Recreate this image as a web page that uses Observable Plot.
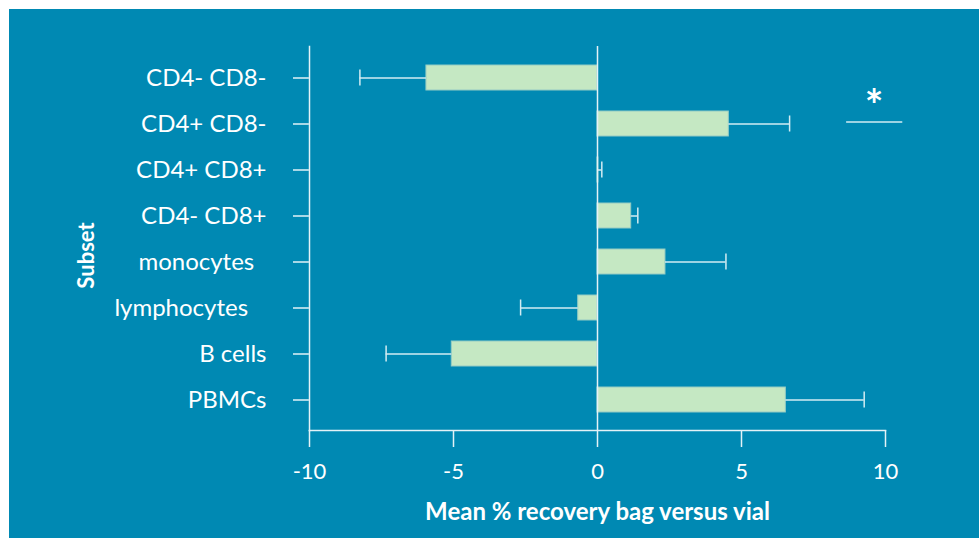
<!DOCTYPE html>
<html><head><meta charset="utf-8">
<script src="https://cdn.jsdelivr.net/npm/d3@7"></script>
<script src="https://cdn.jsdelivr.net/npm/@observablehq/plot@0.6"></script>
<style>
html,body{margin:0;padding:0;background:#fff;}
#chart{position:absolute;left:9px;top:9px;width:970px;height:529px;background:#0089b3;}
#chart svg{display:block;}
</style></head><body><div id="chart"></div>
<script>
const subsets = ["CD4- CD8-", "CD4+ CD8-", "CD4+ CD8+", "CD4- CD8+", "monocytes", "lymphocytes", "B cells", "PBMCs"];
const tickLabels = ["CD4- CD8-", "CD4+ CD8-", "CD4+ CD8+", "CD4- CD8+", "monocytes\u00a0\u00a0", "lymphocytes\u00a0\u00a0\u00a0", "B cells", "PBMCs"];
const meanRecovery = [-5.94, 4.56, 0.03, 1.17, 2.36, -0.67, -5.06, 6.54];
const errorSD = [2.31, 2.11, 0.12, 0.23, 2.10, 2.00, 2.28, 2.72];
const xTicks = [-10, -5, 0, 5, 10];
const sigSubset = "CD4+ CD8-";
const sigX1 = 8.65, sigX2 = 10.6, sigStarX = 9.6;
const xTitle = "Mean % recovery bag versus vial";
const yTitle = "Subset";

const rows = subsets.map((s, i) => ({
  subset: s, mean: meanRecovery[i], err: errorSD[i],
  end: meanRecovery[i] + Math.sign(meanRecovery[i]) * errorSD[i]
}));
const labelOf = new Map(subsets.map((s, i) => [s, tickLabels[i]]));
const sig = [{subset: sigSubset, x1: sigX1, x2: sigX2, x: sigStarX, text: "*"}];

const axisColor = "#e4f2f7";
const plot = Plot.plot({
  width: 970, height: 529,
  marginLeft: 300, marginRight: 94, marginTop: 37, marginBottom: 108,
  style: {background: "transparent", fontFamily: "Lato, sans-serif", color: "#fff", overflow: "visible"},
  x: {domain: [-10, 10]},
  y: {domain: subsets, paddingInner: 0.457, paddingOuter: 0.402},
  marks: [
    Plot.barX(rows, {x: "mean", y: "subset", fill: "#c5e8c3", stroke: "#94cbc4", strokeWidth: 1}),
    Plot.ruleY(rows, {y: "subset", x1: "mean", x2: "end", stroke: "#d2ecf3", strokeWidth: 1.5}),
    Plot.tickX(rows, {x: "end", y: "subset", stroke: "#d2ecf3", strokeWidth: 1.5, insetTop: 4.5, insetBottom: 4.5}),
    Plot.ruleX([0], {stroke: axisColor, strokeWidth: 1.5}),
    Plot.frame({anchor: "left", stroke: axisColor, strokeWidth: 1.5}),
    Plot.frame({anchor: "bottom", stroke: axisColor, strokeWidth: 1.5}),
    Plot.axisX({ticks: xTicks, tickSize: 17, tickPadding: 16, tickFormat: d => String(d),
      fontSize: 22, stroke: axisColor, strokeWidth: 1.5, fill: "#fff", label: null}),
    Plot.axisY({tickSize: 16, tickPadding: 27, tickFormat: d => labelOf.get(d),
      fontSize: 24, stroke: "#a9d7e6", strokeWidth: 2, fill: "#fff", label: null}),
    Plot.text([xTitle], {frameAnchor: "bottom", dy: 89, fontSize: 24, fontWeight: "bold", fill: "#fff"}),
    Plot.text([yTitle], {frameAnchor: "left", textAnchor: "middle", dx: -223, dy: 17, rotate: -90, fontSize: 22, fontWeight: "bold", fill: "#fff"}),
    Plot.ruleY(sig, {y: "subset", x1: "x1", x2: "x2", dy: -2, stroke: "#d2ecf3", strokeWidth: 1.5}),
    Plot.text(sig, {y: "subset", x: "x", text: "text", dy: -17, fontSize: 44, fontWeight: "bold", fill: "#fff"})
  ]
});
document.getElementById("chart").appendChild(plot);
</script>
</body></html>
